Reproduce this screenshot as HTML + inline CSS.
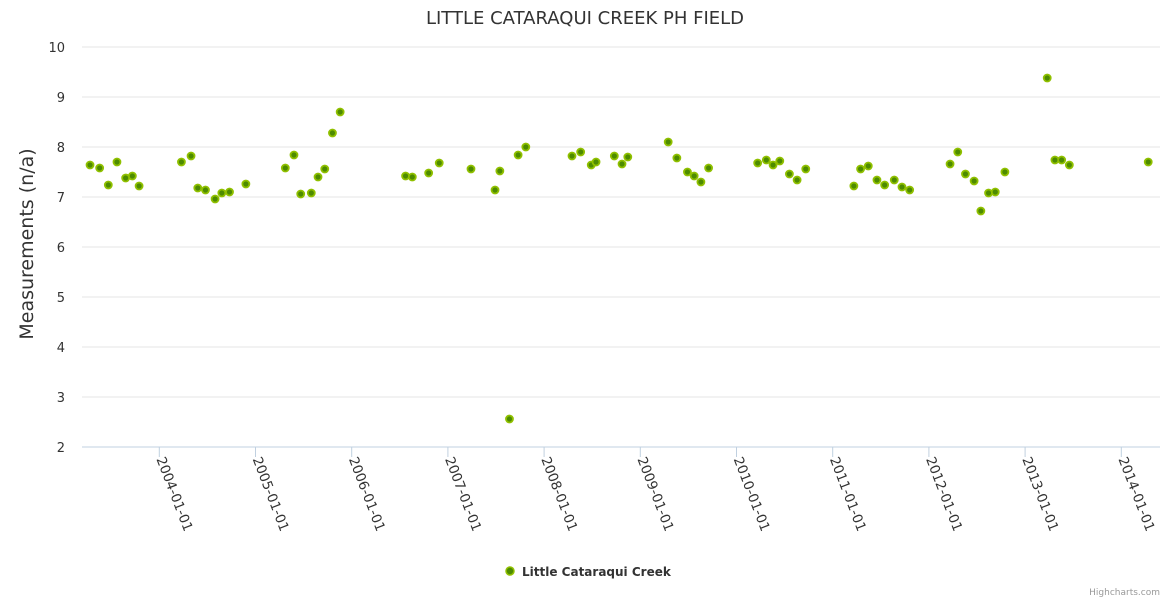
<!DOCTYPE html>
<html><head><meta charset="utf-8"><style>
body{margin:0;background:#fff;font-family:"DejaVu Sans","Liberation Sans",sans-serif}
svg text{font-family:"DejaVu Sans","Liberation Sans",sans-serif}
</style></head><body>
<svg id="chart" width="1170" height="600" xmlns="http://www.w3.org/2000/svg">
<text x="585" y="24" text-anchor="middle" font-size="18" fill="#333">LITTLE CATARAQUI CREEK PH FIELD</text>
<g id="grid"></g>
<g id="yticks"></g>
<g id="xticks"></g>
<text transform="translate(33,244) rotate(-90)" text-anchor="middle" font-size="19" fill="#333">Measurements (n/a)</text>
<g id="points"></g>
<g>
<circle cx="510" cy="571" r="4" fill="#4d8b00" stroke="#90c000" stroke-width="1.5"/>
<text x="522" y="576" font-size="12" font-weight="bold" fill="#333">Little Cataraqui Creek</text>
</g>
<text x="1160" y="595" text-anchor="end" font-size="9" fill="#999">Highcharts.com</text>
</svg>
<script>
const years=[2003.28,2003.38,2003.47,2003.56,2003.65,2003.72,2003.79,2004.23,2004.33,2004.40,2004.48,2004.58,2004.65,2004.73,2004.90,2005.31,2005.40,2005.47,2005.58,2005.65,2005.72,2005.80,2005.88,2006.56,2006.63,2006.80,2006.91,2007.24,2007.49,2007.54,2007.64,2007.73,2007.81,2008.29,2008.38,2008.49,2008.54,2008.73,2008.81,2008.87,2009.29,2009.38,2009.49,2009.56,2009.63,2009.71,2010.22,2010.31,2010.38,2010.45,2010.55,2010.63,2010.72,2011.22,2011.29,2011.37,2011.46,2011.54,2011.64,2011.72,2011.80,2012.22,2012.30,2012.38,2012.47,2012.54,2012.62,2012.69,2012.79,2013.23,2013.31,2013.38,2013.46,2014.28];
const values=[7.64,7.58,7.24,7.70,7.38,7.42,7.22,7.70,7.82,7.18,7.14,6.96,7.08,7.10,7.26,7.58,7.84,7.06,7.08,7.40,7.56,8.28,8.70,7.42,7.40,7.48,7.68,7.56,7.14,7.52,2.56,7.84,8.00,7.82,7.90,7.64,7.70,7.82,7.66,7.80,8.10,7.78,7.50,7.42,7.30,7.58,7.68,7.74,7.64,7.72,7.46,7.34,7.56,7.22,7.56,7.62,7.34,7.24,7.34,7.20,7.14,7.66,7.90,7.46,7.32,6.72,7.08,7.10,7.50,9.38,7.74,7.74,7.64,7.70];
const yTicks=[2,3,4,5,6,7,8,9,10];
const xTickYears=[2004,2005,2006,2007,2008,2009,2010,2011,2012,2013,2014];
const xTickLabels=["2004-01-01","2005-01-01","2006-01-01","2007-01-01","2008-01-01","2009-01-01","2010-01-01","2011-01-01","2012-01-01","2013-01-01","2014-01-01"];
const NS="http://www.w3.org/2000/svg";
const X=v=>159.3+(v-2004)*96.2;
const Y=v=>447-(v-2)*50;
const grid=document.getElementById('grid'),yt=document.getElementById('yticks'),xt=document.getElementById('xticks'),pts=document.getElementById('points');
yTicks.forEach(t=>{
 const l=document.createElementNS(NS,'line');
 
 
 l.setAttribute('x1',82);l.setAttribute('x2',1160);l.setAttribute('y1',Y(t));l.setAttribute('y2',Y(t));
 l.setAttribute('stroke',t===2?'#c0d0e0':'#e6e6e6');l.setAttribute('stroke-width',1);
 grid.appendChild(l);
 const tx=document.createElementNS(NS,'text');
 
 
 tx.setAttribute('x',65);tx.setAttribute('y',Y(t)+5);tx.setAttribute('text-anchor','end');
 tx.setAttribute('font-size','13');tx.setAttribute('fill','#333');tx.textContent=t;
 yt.appendChild(tx);
});
xTickYears.forEach((yr,i)=>{
 const x=X(yr);
 const l=document.createElementNS(NS,'line');
 
 
 l.setAttribute('x1',x);l.setAttribute('x2',x);l.setAttribute('y1',447);l.setAttribute('y2',457);
 l.setAttribute('stroke','#c0d0e0');
 grid.appendChild(l);
 const tx=document.createElementNS(NS,'text');
 
 
 tx.setAttribute('transform','translate('+(x-3)+',459) rotate(69)');
 tx.setAttribute('font-size','13.5');tx.setAttribute('fill','#333');tx.textContent=xTickLabels[i];
 xt.appendChild(tx);
});
years.forEach((yr,i)=>{
 const c=document.createElementNS(NS,'circle');
 
 
 c.setAttribute('cx',X(yr));c.setAttribute('cy',Y(values[i]));c.setAttribute('r',3.5);
 c.setAttribute('fill','#4d8b00');c.setAttribute('stroke','#90c000');c.setAttribute('stroke-width',1.8);
 pts.appendChild(c);
});
</script>
</body></html>
